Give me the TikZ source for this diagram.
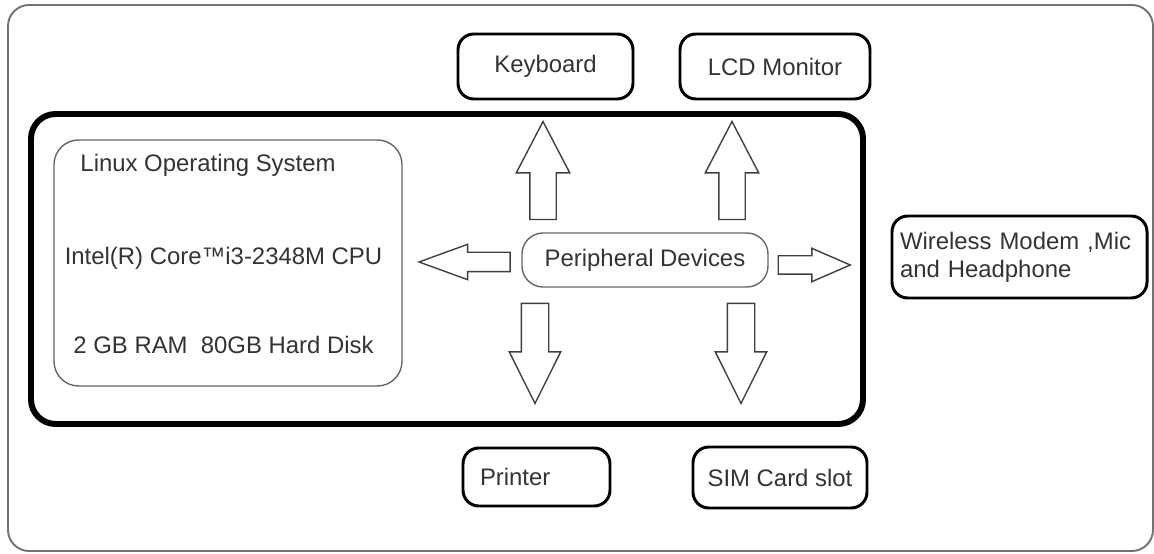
\documentclass[tikz,border=0pt]{standalone}
\usepackage{fontspec}
\setmainfont{Liberation Sans}
\usetikzlibrary{positioning, shapes.arrows}

\begin{document}
\begin{tikzpicture}[on grid,
every node/.style={font=\fontsize{13.6}{16}\selectfont, text=black!80},
device/.style={draw=black, line width=1.7pt, rounded corners=9pt},
fat arrow/.style={single arrow, anchor=tip, draw=black!75, line width=0.8pt, inner xsep=0pt, inner ysep=0.25cm,
  minimum width=1.04cm, minimum height=1.96cm,
  single arrow head extend=0.27cm, single arrow tip angle=55}]

\useasboundingbox (0,0) rectangle (23.08,11.08);
\draw [black!55, line width=1.1pt, rounded corners=12pt] (0.16,0.06) rectangle (23.06,10.98);

\node (sys) [draw, line width=3.4pt, rounded corners=14pt, minimum width=16.64cm, minimum height=6.2cm] at (8.94,5.70) {};
\node (os) [draw=black!60, line width=0.8pt, rounded corners=14pt, minimum width=6.96cm, minimum height=4.92cm] at (4.56,5.82) {};
\node (linux) at (4.16,7.78) {Linux Operating System};
\node (cpu) at (4.47,5.92) {Intel(R) Core™i3-2348M CPU};
\node (ram) [below=1.74cm of cpu] {2 GB RAM~~80GB Hard Disk};

\node (per) [draw=black!60, line width=0.8pt, rounded corners=12pt, minimum width=4.92cm, minimum height=1.08cm] at (12.9,5.88) {Peripheral Devices};

\node (kb) [device, minimum width=3.5cm, minimum height=1.3cm] at (10.91,9.75) {Keyboard};
\node (lcd) [device, minimum width=3.8cm, minimum height=1.3cm, right=4.59cm of kb] {LCD Monitor};
\node (printer) [device, minimum width=2.94cm, minimum height=1.16cm, text width=2.26cm, align=left] at (10.73,1.54) {Printer};
\node (sim) [device, minimum width=3.48cm, minimum height=1.22cm] at (15.6,1.53) {SIM Card slot};
\node (wireless) [device, minimum width=5.1cm, minimum height=1.64cm, text width=4.78cm, align=left] at (20.39,5.94) {Wireless Modem ,Mic\\and Headphone};

\node (kbarrow) [fat arrow, rotate=90] at (10.86,8.68) {};
\node (lcdarrow) [fat arrow, rotate=90] at (14.64,8.68) {};
\node (prarrow) [fat arrow, rotate=-90, inner ysep=0.26cm, minimum height=2cm, minimum width=1cm, single arrow head extend=0.24cm, single arrow tip angle=53] at (10.7,2.98) {};
\node (simarrow) [fat arrow, rotate=-90, inner ysep=0.26cm, minimum height=2cm, minimum width=1cm, single arrow head extend=0.24cm, single arrow tip angle=53] at (14.82,2.98) {};
\node (osarrow) [fat arrow, rotate=180, inner ysep=0.18cm, minimum height=1.82cm, minimum width=0.68cm, single arrow head extend=0.16cm, single arrow tip angle=40] at (8.34,5.84) {};
\node (wlarrow) [fat arrow, inner ysep=0.17cm, minimum height=1.44cm, minimum width=0.64cm, single arrow head extend=0.15cm, single arrow tip angle=47] at (17.04,5.78) {};
\end{tikzpicture}
\end{document}
